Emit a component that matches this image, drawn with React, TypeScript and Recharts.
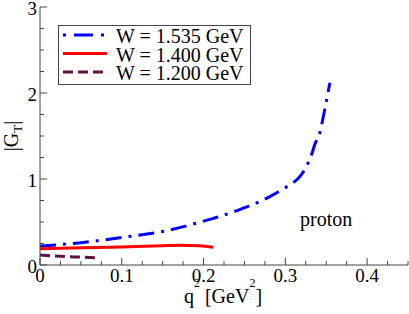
import React from "react";
import { LineChart, Line, XAxis, YAxis, Legend, Customized } from "recharts";

// W = 1.535 GeV (blue, dash-dot)
const blueQ2 = [0, 0.05, 0.1, 0.15, 0.2, 0.24, 0.28, 0.3, 0.31, 0.318, 0.326, 0.332, 0.336, 0.342, 0.348, 0.3545];
const blueGT = [0.22, 0.26, 0.32, 0.39, 0.51, 0.63, 0.79, 0.9, 0.96, 1.03, 1.15, 1.28, 1.4, 1.53, 1.8, 2.12];

// W = 1.400 GeV (red, solid)
const redQ2 = [0, 0.05, 0.1, 0.15, 0.17, 0.195, 0.212];
const redGT = [0.19, 0.2, 0.21, 0.225, 0.23, 0.225, 0.205];

// W = 1.200 GeV (purple, dashed)
const purpleQ2 = [0, 0.033, 0.05, 0.069];
const purpleGT = [0.116, 0.097, 0.092, 0.085];

const xTicks = [0, 0.025, 0.05, 0.075, 0.1, 0.125, 0.15, 0.175, 0.2, 0.225, 0.25, 0.275, 0.3, 0.325, 0.35, 0.375, 0.4, 0.425, 0.45];
const yTicks = [0, 0.25, 0.5, 0.75, 1, 1.25, 1.5, 1.75, 2, 2.25, 2.5, 2.75, 3];
const seriesNames = ["W = 1.535 GeV", "W = 1.400 GeV", "W = 1.200 GeV"];

const toPoints = (xs: number[], ys: number[]) => xs.map((x, i) => ({ q2: x, gt: ys[i] }));

const FONT = '"Liberation Serif", "Times New Roman", Times, "DejaVu Serif", serif';
const serif = { fontFamily: FONT };
const AXIS = "#444";
const BLUE = "#0000ff";
const RED = "#ff0000";
const PURPLE = "#5f1048";

const isMajorX = (v: number) => Math.abs(v * 10 - Math.round(v * 10)) < 1e-6;
const isMajorY = (v: number) => Math.abs(v - Math.round(v)) < 1e-6;

const BottomTick = ({ x, y, payload }: any) => {
  const v = payload.value;
  const major = isMajorX(v);
  return (
    <g>
      <line x1={x} y1={y} x2={x} y2={y - (major ? 7 : 4)} stroke={AXIS} />
      {major && v <= 0.4 && (
        <text x={x} y={y + 17} textAnchor="middle" fontSize={19} style={serif} fill="#000">
          {v === 0 ? "0" : v.toFixed(1)}
        </text>
      )}
    </g>
  );
};

const TopTick = ({ x, y, payload }: any) => {
  const major = isMajorX(payload.value);
  return <line x1={x} y1={y} x2={x} y2={y + (major ? 7 : 4)} stroke={AXIS} />;
};

const LeftTick = ({ x, y, payload }: any) => {
  const v = payload.value;
  const major = isMajorY(v);
  return (
    <g>
      <line x1={x} y1={y} x2={x + (major ? 7 : 4)} y2={y} stroke={AXIS} />
      {major && (
        <text x={x - 3} y={y + 8} textAnchor="end" fontSize={19} style={serif} fill="#000">
          {String(v)}
        </text>
      )}
    </g>
  );
};

const RightTick = ({ x, y, payload }: any) => {
  const major = isMajorY(payload.value);
  return <line x1={x} y1={y} x2={x - (major ? 7 : 4)} y2={y} stroke={AXIS} />;
};

const legendRows = [
  { name: seriesNames[0], color: BLUE, dash: "3 8 19 8" },
  { name: seriesNames[1], color: RED, dash: undefined },
  { name: seriesNames[2], color: PURPLE, dash: "10 5" },
];

const LegendBox = () => (
  <svg width={193} height={60} style={{ display: "block" }}>
    <rect x={0.5} y={0.5} width={192} height={59} fill="#fff" stroke={AXIS} />
    {legendRows.map((r, i) => {
      const cy = 10 + i * 18.5;
      return (
        <g key={r.name}>
          <line x1={5} y1={cy} x2={49} y2={cy} stroke={r.color} strokeWidth={3} strokeDasharray={r.dash} />
          <text x={58} y={cy + 8} fontSize={20} style={serif} fill="#000">
            {r.name}
          </text>
        </g>
      );
    })}
  </svg>
);

const XLabel = () => (
  <text x={223} y={303} textAnchor="middle" fontSize={20} style={serif} fill="#000">
    q<tspan dy={-16} fontSize={12}>2</tspan>
    <tspan dy={16}> [GeV</tspan>
    <tspan dy={-16} fontSize={12}>2</tspan>
    <tspan dy={16}>]</tspan>
  </text>
);

const YLabel = () => (
  <text x={18} y={136} transform="rotate(-90 18 136)" textAnchor="middle" fontSize={20} style={serif} fill="#000">
    |G<tspan dy={4} fontSize={13}>T</tspan>
    <tspan dy={-4}>|</tspan>
  </text>
);

const Annotation = () => (
  <text x={300} y={226} fontSize={20} style={serif} fill="#000">
    proton
  </text>
);

export default function App() {
  return (
    <div style={{ position: "absolute", left: 0, top: 0 }}>
      <LineChart width={409} height={314} margin={{ top: 7, right: 1, bottom: 0, left: 0 }}>
        <XAxis
          xAxisId="b"
          dataKey="q2"
          type="number"
          domain={[0, 0.45]}
          ticks={xTicks}
          interval={0}
          allowDataOverflow
          height={49}
          tickSize={0}
          tickMargin={0}
          tickLine={false}
          axisLine={{ stroke: AXIS }}
          tick={<BottomTick />}
          label={{ content: () => <XLabel /> }}
        />
        <XAxis
          xAxisId="t"
          orientation="top"
          dataKey="q2"
          type="number"
          domain={[0, 0.45]}
          ticks={xTicks}
          interval={0}
          height={0}
          tickSize={0}
          tickMargin={0}
          tickLine={false}
          axisLine={{ stroke: AXIS }}
          tick={<TopTick />}
        />
        <YAxis
          yAxisId="l"
          type="number"
          domain={[0, 3]}
          ticks={yTicks}
          interval={0}
          allowDataOverflow
          width={40}
          tickSize={0}
          tickMargin={0}
          tickLine={false}
          axisLine={{ stroke: AXIS }}
          tick={<LeftTick />}
          label={{ content: () => <YLabel /> }}
        />
        <YAxis
          yAxisId="r"
          orientation="right"
          type="number"
          domain={[0, 3]}
          ticks={yTicks}
          interval={0}
          width={0}
          tickSize={0}
          tickMargin={0}
          tickLine={false}
          axisLine={{ stroke: AXIS }}
          tick={<RightTick />}
        />
        <Line
          xAxisId="b"
          yAxisId="l"
          name={seriesNames[0]}
          data={toPoints(blueQ2, blueGT)}
          dataKey="gt"
          type="monotone"
          stroke={BLUE}
          strokeWidth={3}
          strokeDasharray="16 7 3 7"
          dot={false}
          isAnimationActive={false}
        />
        <Line
          xAxisId="b"
          yAxisId="l"
          name={seriesNames[1]}
          data={toPoints(redQ2, redGT)}
          dataKey="gt"
          type="monotone"
          stroke={RED}
          strokeWidth={3}
          dot={false}
          isAnimationActive={false}
        />
        <Line
          xAxisId="b"
          yAxisId="l"
          name={seriesNames[2]}
          data={toPoints(purpleQ2, purpleGT)}
          dataKey="gt"
          type="monotone"
          stroke={PURPLE}
          strokeWidth={3}
          strokeDasharray="10 5"
          dot={false}
          isAnimationActive={false}
        />
        <Customized component={<Annotation />} />
        <Legend
          layout="vertical"
          align="center"
          verticalAlign="middle"
          wrapperStyle={{ left: 58, top: 25, width: 193, height: 60 }}
          content={() => <LegendBox />}
        />
      </LineChart>
    </div>
  );
}
